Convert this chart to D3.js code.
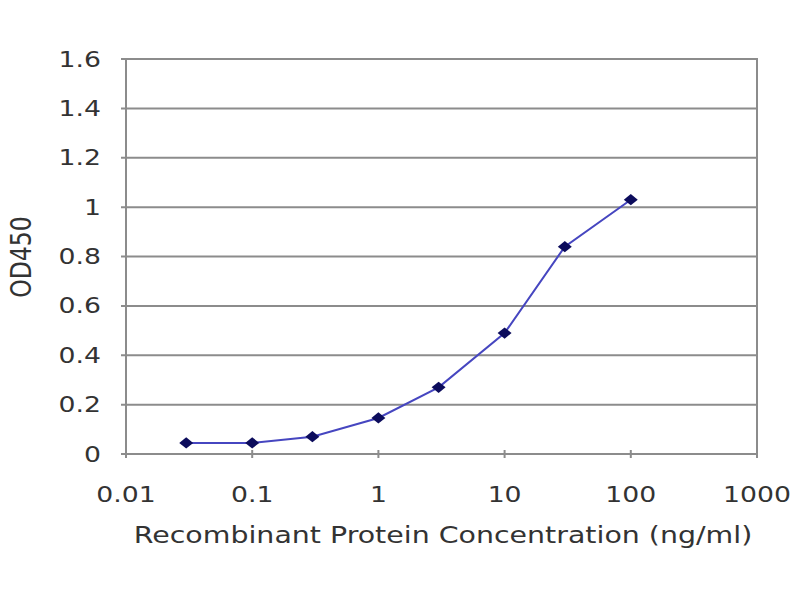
<!DOCTYPE html>
<html>
<head>
    <meta charset="utf-8">
    <style>
        body {
            margin: 0;
            background: #fff;
        }
        svg {
            font-family: 'DejaVu Sans', Verdana, sans-serif;
        }
        .grid line {
            stroke: #8c8c8c;
            stroke-width: 2;
        }
    </style>
</head>
<body>
    <svg width="800" height="600"></svg>

<script src="https://d3js.org/d3.v7.min.js"></script>
<script>
    // concentrations (ng/ml) and OD450 readings
    let concentrations = [0.03, 0.1, 0.3, 1, 3, 10, 30, 100]
    let od450 = [0.045, 0.045, 0.07, 0.146, 0.27, 0.49, 0.84, 1.03]

    let xTicks = [0.01, 0.1, 1, 10, 100, 1000]
    let xTickLabels = ["0.01", "0.1", "1", "10", "100", "1000"]
    let yTicks = [0, 0.2, 0.4, 0.6, 0.8, 1, 1.2, 1.4, 1.6]
    let yTickLabels = ["0", "0.2", "0.4", "0.6", "0.8", "1", "1.2", "1.4", "1.6"]

    // plot box (window.top is taken, so spelled out)
    let plotLeft = 126, plotRight = 757, plotTop = 59, plotBottom = 454

    // the original picture is stretched sideways, so text gets a wider scale
    let tickStretch = 1.27
    let titleStretch = 1.21

    let svg = d3.select("svg")

    let x = d3.scaleLog()
        .domain([0.01, 1000])
        .range([plotLeft, plotRight])

    let y = d3.scaleLinear()
        .domain([0, 1.6])
        .range([plotBottom, plotTop])

    // horizontal gridlines (they poke out a bit left of the axis like ticks)
    svg.append("g")
        .attr("class", "grid")
        .selectAll("line")
        .data(yTicks)
        .join("line")
        .attr("x1", plotLeft - 5)
        .attr("x2", plotRight)
        .attr("y1", d => y(d))
        .attr("y2", d => y(d))

    // plot frame
    svg.append("rect")
        .attr("x", plotLeft)
        .attr("y", plotTop)
        .attr("width", plotRight - plotLeft)
        .attr("height", plotBottom - plotTop)
        .style("fill", "none")
        .style("stroke", "#8c8c8c")
        .style("stroke-width", 2)

    // x ticks
    svg.append("g")
        .selectAll("line")
        .data(xTicks)
        .join("line")
        .attr("x1", d => x(d))
        .attr("x2", d => x(d))
        .attr("y1", plotBottom - 4)
        .attr("y2", plotBottom + 4)
        .style("stroke", "#8c8c8c")
        .style("stroke-width", 2)

    // y tick labels
    svg.append("g")
        .selectAll("text")
        .data(yTicks)
        .join("text")
        .attr("transform", d => "translate(101," + y(d) + ") scale(" + tickStretch + ",1)")
        .attr("dy", "0.36em")
        .attr("text-anchor", "end")
        .style("font-size", "21px")
        .style("fill", "#333")
        .text((d, i) => yTickLabels[i])

    // x tick labels
    svg.append("g")
        .selectAll("text")
        .data(xTicks)
        .join("text")
        .attr("transform", d => "translate(" + x(d) + ",502) scale(" + tickStretch + ",1)")
        .attr("text-anchor", "middle")
        .style("font-size", "21px")
        .style("fill", "#333")
        .text((d, i) => xTickLabels[i])

    // axis titles
    svg.append("text")
        .attr("transform", "translate(443,543) scale(" + titleStretch + ",1)")
        .attr("text-anchor", "middle")
        .style("font-size", "23.5px")
        .style("fill", "#333")
        .text("Recombinant Protein Concentration (ng/ml)")

    svg.append("text")
        .attr("transform", "translate(31,257) scale(" + titleStretch + ",1) rotate(-90)")
        .attr("text-anchor", "middle")
        .style("font-size", "23.5px")
        .style("fill", "#333")
        .text("OD450")

    let points = concentrations.map((c, i) => [c, od450[i]])

    let line = d3.line()
        .x(d => x(d[0]))
        .y(d => y(d[1]))

    svg.append("path")
        .datum(points)
        .attr("d", line)
        .style("fill", "none")
        .style("stroke", "#4646c0")
        .style("stroke-width", 2)

    // squat diamonds like the spreadsheet markers
    svg.append("g")
        .selectAll("path")
        .data(points)
        .join("path")
        .attr("transform", d => "translate(" + x(d[0]) + "," + y(d[1]) + ") scale(1.5,0.7)")
        .attr("d", d3.symbol().type(d3.symbolDiamond).size(75))
        .style("fill", "#0c0c5c")
</script>
</body>
</html>
